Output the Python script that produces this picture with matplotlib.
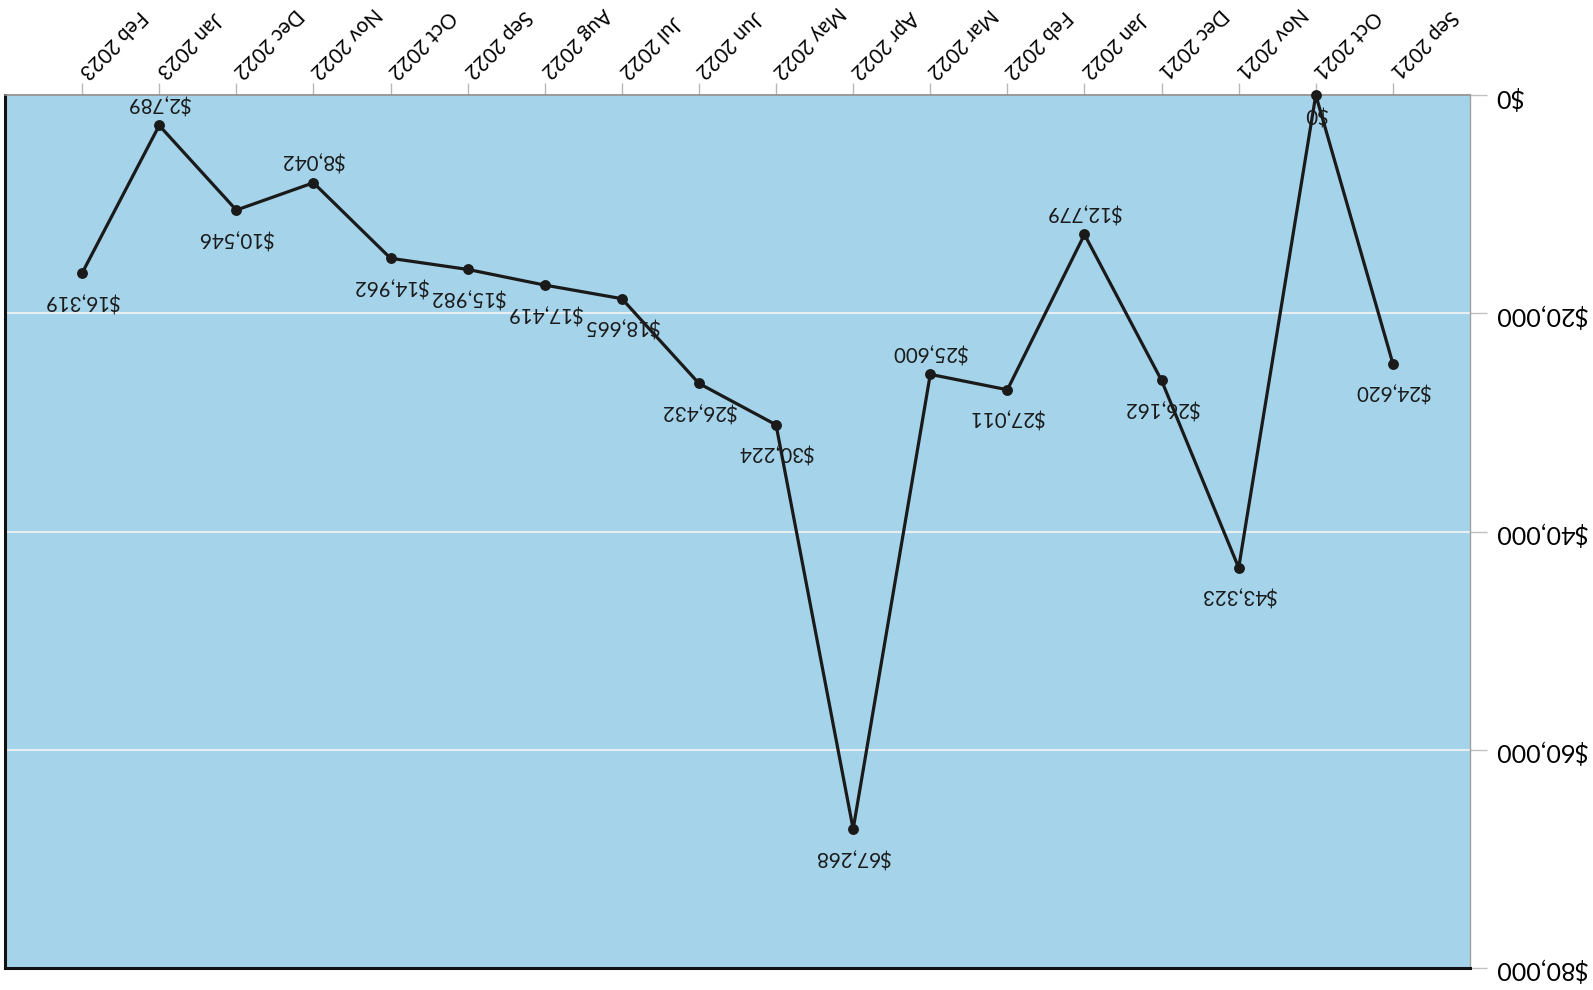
import matplotlib
matplotlib.use('agg')

import numpy as np
import matplotlib.pyplot as plt
from matplotlib.ticker import FuncFormatter

plt.rcParams['font.family'] = ['Lato', 'DejaVu Sans']

# chart is a scanned page turned upside down, so it is drawn that way
months = ['Sep 2021', 'Oct 2021', 'Nov 2021', 'Dec 2021', 'Jan 2022', 'Feb 2022',
          'Mar 2022', 'Apr 2022', 'May 2022', 'Jun 2022', 'Jul 2022', 'Aug 2022',
          'Sep 2022', 'Oct 2022', 'Nov 2022', 'Dec 2022', 'Jan 2023', 'Feb 2023']
amounts = [24620, 0, 43323, 26162, 12779, 27011,
           25600, 67268, 30224, 26432, 18665, 17419,
           15982, 14962, 8042, 10546, 2789, 16319]
# labels that sit on the other side of the point
flip_label = ['Jan 2022', 'Mar 2022', 'Nov 2022', 'Jan 2023']
y_ticks = [0, 20000, 40000, 60000, 80000]

fig = plt.figure(figsize=(15.93, 9.9), dpi=100)
ax = fig.add_axes([5 / 1593, 22 / 990, 1465 / 1593, 873 / 990])
ax.set_facecolor('#a4d3ea')

x = np.arange(len(months))
ax.plot(x, amounts, color='#1a1a1a', linewidth=2.3, marker='o', markersize=6.8,
        clip_on=False, zorder=3)

for i, (m, v) in enumerate(zip(months, amounts)):
    dy = 16 if m in flip_label else -20
    if v == 0:
        dy = -13
    ax.annotate('${:,}'.format(v), (i, v), xytext=(0, dy), textcoords='offset points',
                ha='center', va='center', rotation=180, fontsize=14.8, color='#1a1a1a',
                zorder=4)

ax.set_xlim(len(months), -1)
ax.set_ylim(80000, 0)

ax.set_xticks(x)
ax.set_xticklabels(months)
ax.xaxis.tick_top()
ax.tick_params(axis='x', length=9, width=1, color='#b8b8b8', pad=6, labelsize=14.8)
plt.setp(ax.get_xticklabels(), rotation=225, ha='right', va='center',
         rotation_mode='anchor')

ax.set_yticks(y_ticks)
ax.yaxis.set_major_formatter(FuncFormatter(lambda v, p: '${:,.0f}'.format(v)))
ax.yaxis.tick_right()
ax.tick_params(axis='y', length=12, width=1, color='#c0c0c0', pad=5, labelsize=18)
plt.setp(ax.get_yticklabels(), rotation=180)

ax.grid(axis='y', color='#e6eef2', linewidth=1.5)
ax.set_axisbelow(True)

ax.spines['left'].set_color('#111111')
ax.spines['left'].set_linewidth(2.2)
ax.spines['bottom'].set_color('#111111')
ax.spines['bottom'].set_linewidth(2.2)
ax.spines['top'].set_color('#8a8a8a')
ax.spines['top'].set_linewidth(1.2)
ax.spines['right'].set_color('#a0a0a0')
ax.spines['right'].set_linewidth(1)

plt.savefig('out.png')
